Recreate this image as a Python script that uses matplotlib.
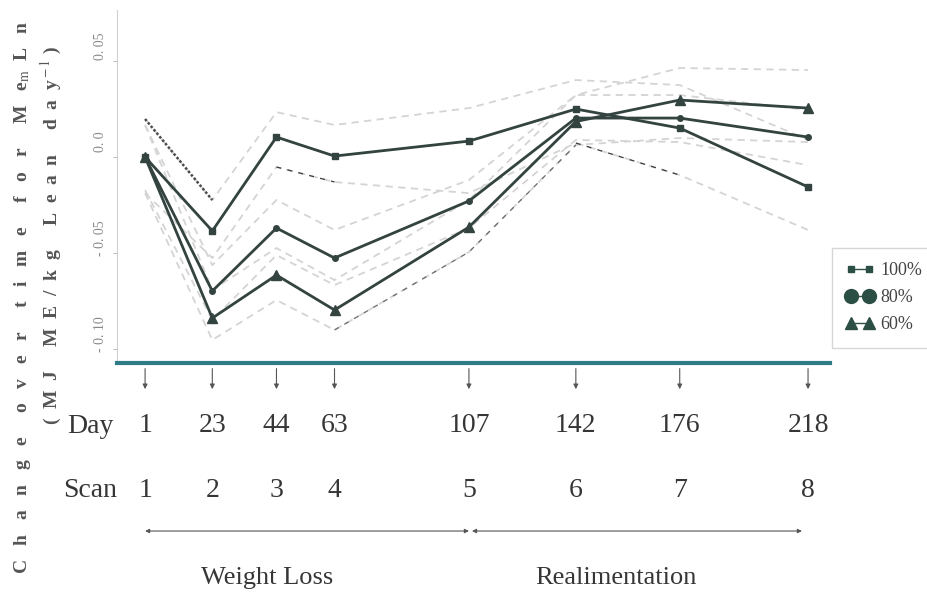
#!/usr/bin/env python3
import matplotlib
matplotlib.use("Agg")
import matplotlib.pyplot as plt
from matplotlib.lines import Line2D
from matplotlib.transforms import ScaledTranslation, blended_transform_factory

plt.rcParams["mathtext.fontset"] = "stix"

### data: days of the scans and the change in MEm per treatment
days = [1, 23, 44, 63, 107, 142, 176, 218]
scans = [1, 2, 3, 4, 5, 6, 7, 8]

mem_100 = [0.0, -0.0385, 0.0104, 0.0005, 0.0083, 0.0250, 0.0151, -0.0156]
mem_80 = [0.0, -0.0698, -0.0370, -0.0526, -0.0229, 0.0203, 0.0203, 0.0104]
mem_60 = [0.0, -0.0839, -0.0615, -0.0797, -0.0365, 0.0185, 0.0297, 0.0255]

# confidence limits
hi_100 = [0.0198, -0.0224, 0.0234, 0.0167, 0.0255, 0.0401, 0.0375, 0.0089]
lo_100 = [-0.0188, -0.0526, -0.0052, -0.0130, -0.0188, 0.0073, -0.0094, -0.0380]
hi_80 = [0.0167, -0.0563, -0.0224, -0.0380, -0.0120, 0.0323, 0.0323, 0.0245]
lo_80 = [-0.0172, -0.0849, -0.0511, -0.0667, -0.0370, 0.0089, 0.0078, -0.0042]
hi_60 = [0.0167, -0.0693, -0.0474, -0.0641, -0.0224, 0.0323, 0.0464, 0.0453]
lo_60 = [-0.0188, -0.0953, -0.0745, -0.0901, -0.0495, 0.0063, 0.0099, 0.0078]

ytick_vals = [-0.10, -0.05, 0.0, 0.05]
ytick_labels = ["- 0. 10", "- 0. 05", "0. 0", "0. 05"]

phases = [("Weight Loss", 1, 107, 41), ("Realimentation", 108, 216, 155)]

### styles
line_col = "#33433f"
band_col = "#d4d4d4"
dark_band = "#3a3a3a"
axis_col = "#2f7c86"
text_col = "#363636"
serif = ["Liberation Serif", "DejaVu Serif"]

treatments = [
    {"y": mem_100, "hi": hi_100, "lo": lo_100, "marker": "s", "ms": 4, "lms": 5, "label": "100%"},
    {"y": mem_80, "hi": hi_80, "lo": lo_80, "marker": "o", "ms": 4, "lms": 10, "label": "80%"},
    {"y": mem_60, "hi": hi_60, "lo": lo_60, "marker": "^", "ms": 7, "lms": 8, "label": "60%"},
]

fig = plt.figure(figsize=(9.27, 5.99), dpi=100)
ax = fig.add_axes([0.1262, 0.394, 0.7692, 0.5893])
ax.set_xlim(-8.2, 225.2)
ax.set_ylim(-0.1073, 0.0766)

# confidence bands
for t in treatments:
    for band in (t["hi"], t["lo"]):
        ax.plot(days, band, color=band_col, lw=1.3, dashes=(4, 3), zorder=1)

# parts of the limits that print darker
ax.plot(days[0:2], hi_100[0:2], color="#4a4a4a", lw=1.8, linestyle=(0, (1, 0.8)), zorder=2)
ax.plot(days[2:4], lo_100[2:4], color=dark_band, lw=0.9, dashes=(4, 5), zorder=2)
ax.plot(days[5:7], lo_100[5:7], color=dark_band, lw=0.9, dashes=(4, 5), zorder=2)
ax.plot(days[3:6], lo_60[3:6], color="#6a6a6a", lw=0.9, dashes=(4, 5), zorder=2)

for t in treatments:
    ax.plot(days, t["y"], color=line_col, lw=2.0, marker=t["marker"],
            markersize=t["ms"], zorder=3)

# axes look
for side in ("top", "right"):
    ax.spines[side].set_visible(False)
ax.spines["left"].set_color("#d0d0d0")
ax.spines["bottom"].set_color(axis_col)
ax.spines["bottom"].set_linewidth(3)
ax.set_xticks([])
ax.set_yticks(ytick_vals)
ax.set_yticklabels(ytick_labels, rotation=90, va="center", fontsize=10,
                   color="#8a8a8a", family=serif)
ax.tick_params(axis="y", direction="out", length=3, color="#bbbbbb", pad=4)
for lab in ax.get_yticklabels():
    lab.set_transform(lab.get_transform() + ScaledTranslation(0, 0.15, fig.dpi_scale_trans))

# y label
fig.text(0.024, 0.503,
         r"C   h   a   n   g   e     o   v   e   r     t   i   m   e     f   o   r     M   e$_{\rm m}$  L   n",
         rotation=90, ha="center", va="center", fontsize=14, fontweight="bold",
         color="#555555", family=serif)
fig.text(0.056, 0.607,
         r"(  M  J     M  E  /  k  g     L  e  a  n     d  a  y$^{\rm -1}$ )",
         rotation=90, ha="center", va="center", fontsize=14, fontweight="bold",
         color="#555555", family=serif)

# scan arrows and labels beneath the axis
trans = blended_transform_factory(ax.transData, ax.transAxes)
for d, s in zip(days, scans):
    ax.annotate("", xy=(d, -0.082), xytext=(d, -0.008), xycoords=trans,
                textcoords=trans, annotation_clip=False,
                arrowprops=dict(arrowstyle="-|>", lw=0.8, color="#555555",
                                mutation_scale=7))
    ax.text(d, -0.176, str(d), transform=trans, ha="center", va="center",
            fontsize=20, color=text_col, family=serif)
    ax.text(d, -0.36, str(s), transform=trans, ha="center", va="center",
            fontsize=20, color=text_col, family=serif)
ax.text(-0.038, -0.18, "Day", transform=ax.transAxes, ha="center", va="center",
        fontsize=20, color=text_col, family=serif)
ax.text(-0.038, -0.36, "Scan", transform=ax.transAxes, ha="center", va="center",
        fontsize=20, color=text_col, family=serif)

# treatment phases
for name, start, end, mid in phases:
    ax.annotate("", xy=(end, -0.476), xytext=(start, -0.476), xycoords=trans,
                textcoords=trans, annotation_clip=False,
                arrowprops=dict(arrowstyle="<|-|>", lw=0.8, color="#555555",
                                mutation_scale=6, shrinkA=0, shrinkB=0))
    ax.text(mid, -0.61, name, transform=trans, ha="center", va="center",
            fontsize=19, color=text_col, family=serif)

# legend
handles = [Line2D([], [], color="#2c4f45", lw=1, marker=t["marker"],
                  markersize=t["lms"]) for t in treatments]
leg = fig.legend(handles, [t["label"] for t in treatments], loc="upper left",
                 bbox_to_anchor=(0.897, 0.586), frameon=True, fancybox=False,
                 numpoints=2, handlelength=1.6, handletextpad=0.3,
                 borderpad=0.8, borderaxespad=0, labelspacing=0.55,
                 prop={"family": serif, "size": 13})
leg._legend_box.align = "left"
leg.get_frame().set_edgecolor("#cccccc")
leg.get_frame().set_linewidth(1)
for txt in leg.get_texts():
    txt.set_color("#444444")

fig.savefig("out.png", dpi=100)
